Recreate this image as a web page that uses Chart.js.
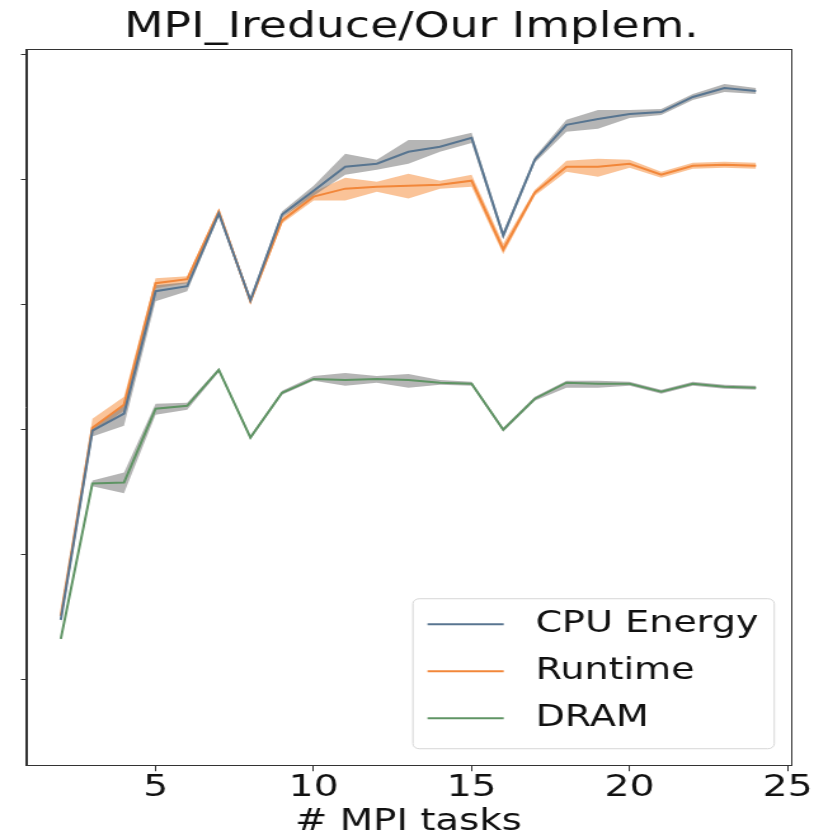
<!DOCTYPE html>
<html><head><meta charset="utf-8">
<script src="https://cdn.jsdelivr.net/npm/chart.js@4.4.1/dist/chart.umd.min.js"></script>
<style>html,body{margin:0;padding:0;background:#fff;overflow:hidden}#c{display:block}</style>
</head><body>
<canvas id="c" width="641" height="839" style="width:814px;height:839px"></canvas>
<script>
const tasks = [2,3,4,5,6,7,8,9,10,11,12,13,14,15,16,17,18,19,20,21,22,23,24];
const xTickValues = [5,10,15,20,25];
const yTickValues = [1,2,3,4,5,6];
const seriesNames = ['CPU Energy','Runtime','DRAM'];

const cpuEnergy     = [1.478,2.990,3.126,4.105,4.145,4.726,4.033,4.718,4.909,5.100,5.124,5.220,5.260,5.331,4.551,5.156,5.435,5.482,5.522,5.538,5.658,5.729,5.705];
const cpuEnergyLow  = [1.446,2.943,3.030,4.025,4.105,4.702,4.010,4.694,4.869,5.037,5.076,5.124,5.220,5.291,4.519,5.132,5.379,5.403,5.490,5.514,5.634,5.697,5.682];
const cpuEnergyHigh = [1.510,3.022,3.189,4.153,4.177,4.750,4.057,4.742,4.949,5.204,5.156,5.315,5.315,5.371,4.583,5.180,5.475,5.554,5.554,5.562,5.682,5.761,5.729];

const runtime     = [1.510,3.014,3.197,4.169,4.201,4.742,4.025,4.670,4.861,4.925,4.941,4.949,4.957,4.989,4.439,4.893,5.100,5.100,5.124,5.037,5.108,5.116,5.108];
const runtimeLow  = [1.486,2.975,3.150,4.129,4.169,4.718,4.002,4.646,4.830,4.830,4.901,4.846,4.925,4.941,4.400,4.869,5.061,5.021,5.092,5.013,5.084,5.092,5.084];
const runtimeHigh = [1.533,3.086,3.261,4.209,4.225,4.766,4.049,4.694,4.901,5.013,4.981,5.045,4.989,5.037,4.487,4.917,5.148,5.164,5.156,5.061,5.132,5.140,5.132];

const dram     = [1.326,2.568,2.576,3.166,3.189,3.476,2.935,3.293,3.404,3.396,3.404,3.396,3.373,3.365,2.998,3.245,3.373,3.365,3.365,3.301,3.365,3.341,3.333];
const dramLow  = [1.311,2.545,2.489,3.118,3.158,3.460,2.919,3.277,3.389,3.349,3.373,3.333,3.357,3.349,2.982,3.229,3.333,3.333,3.349,3.285,3.349,3.325,3.318];
const dramHigh = [1.342,2.592,2.656,3.205,3.213,3.492,2.951,3.309,3.428,3.452,3.428,3.444,3.396,3.381,3.014,3.261,3.389,3.389,3.381,3.317,3.381,3.357,3.349];

const pts = arr => arr.map((v,i)=>({x:tasks[i], y:v}));
const FONT = 'DejaVu Sans';
const lineColors = ['#587590','#f2873a','#5f9464'];
const bandColors = ['rgba(120,120,120,0.55)','rgba(245,135,50,0.5)','rgba(120,120,120,0.55)'];

function band(low, high, color){
  return [
    {label:'_low', data:pts(low), borderWidth:0, pointRadius:0, fill:false, order:5, tension:0},
    {label:'_high', data:pts(high), borderWidth:0, pointRadius:0, fill:'-1', backgroundColor:color, order:5, tension:0}
  ];
}
function line(name, vals, color){
  return {label:name, data:pts(vals), borderColor:color, borderWidth:2, pointRadius:0, fill:false, order:0, tension:0};
}
const datasets = [
  ...band(cpuEnergyLow, cpuEnergyHigh, bandColors[0]),
  ...band(runtimeLow, runtimeHigh, bandColors[1]),
  ...band(dramLow, dramHigh, bandColors[2]),
  line(seriesNames[0], cpuEnergy, lineColors[0]),
  line(seriesNames[1], runtime, lineColors[1]),
  line(seriesNames[2], dram, lineColors[2])
];

const framePlugin = {
  id:'frame',
  afterDraw(chart){
    const {ctx, chartArea:a} = chart;
    ctx.save();
    ctx.strokeStyle = '#333';
    ctx.lineWidth = 1;
    ctx.strokeRect(Math.round(a.left)+0.5, Math.round(a.top)+0.5, Math.round(a.right-a.left), Math.round(a.bottom-a.top));
    ctx.restore();
  }
};

const legendPlugin = {
  id:'boxLegend',
  afterDraw(chart){
    const {ctx, chartArea:a} = chart;
    const size = 30, rowH = 47, lineLen = 60, padL = 12, gap = 25, padR = 12;
    ctx.save();
    ctx.font = size + 'px "' + FONT + '"';
    const tw = Math.max(...seriesNames.map(n=>ctx.measureText(n).width));
    const w = padL + lineLen + gap + tw + padR;
    const h = rowH * seriesNames.length + 9;
    const right = a.right - 13.5, bottom = a.bottom - 17;
    const left = right - w, top = bottom - h;
    ctx.beginPath();
    ctx.roundRect(left+0.5, top+0.5, w, h, 5);
    ctx.fillStyle = 'rgba(255,255,255,0.85)';
    ctx.fill();
    ctx.strokeStyle = '#d6d6d6';
    ctx.lineWidth = 1;
    ctx.stroke();
    seriesNames.forEach((n,i)=>{
      const y = top + 26 + i*rowH;
      ctx.beginPath();
      ctx.moveTo(left+padL, y);
      ctx.lineTo(left+padL+lineLen, y);
      ctx.strokeStyle = lineColors[i];
      ctx.lineWidth = 2;
      ctx.stroke();
      ctx.fillStyle = '#111';
      ctx.textBaseline = 'middle';
      ctx.fillText(n, left+padL+lineLen+gap, y);
    });
    ctx.restore();
  }
};

new Chart(document.getElementById('c'), {
  type:'line',
  data:{datasets},
  plugins:[framePlugin, legendPlugin],
  options:{
    responsive:false,
    animation:false,
    layout:{padding:{left:7,right:0,top:0,bottom:0}},
    plugins:{
      legend:{display:false},
      tooltip:{enabled:false},
      title:{display:true, text:'MPI_Ireduce/Our Implem.', color:'#111',
        font:{family:FONT, size:36, weight:'normal', lineHeight:1.2}, padding:{top:6,bottom:0}}
    },
    scales:{
      x:{type:'linear', min:0.9, max:25.1,
        afterBuildTicks:s=>{s.ticks = xTickValues.map(v=>({value:v}));},
        ticks:{font:{family:FONT,size:31,lineHeight:1.0}, color:'#111', padding:1, maxRotation:0, autoSkip:false},
        grid:{drawOnChartArea:false, tickLength:6, color:'#333'},
        border:{color:'#333', width:1},
        title:{display:true, text:'# MPI tasks', color:'#111', font:{family:FONT,size:30.5,lineHeight:1.14}, padding:0}
      },
      y:{type:'linear', min:0.315, max:6.04,
        afterBuildTicks:s=>{s.ticks = yTickValues.map(v=>({value:v}));},
        afterFit:s=>{s.width = 13.5;},
        ticks:{callback:()=>'', padding:0},
        grid:{drawOnChartArea:false, tickLength:4, color:'#333'},
        border:{color:'#333', width:1}
      },
      y2:{type:'linear', position:'right', display:true,
        afterFit:s=>{s.width = 13.4;},
        ticks:{display:false},
        grid:{display:false},
        border:{display:false}
      }
    }
  }
});
</script>
</body></html>
